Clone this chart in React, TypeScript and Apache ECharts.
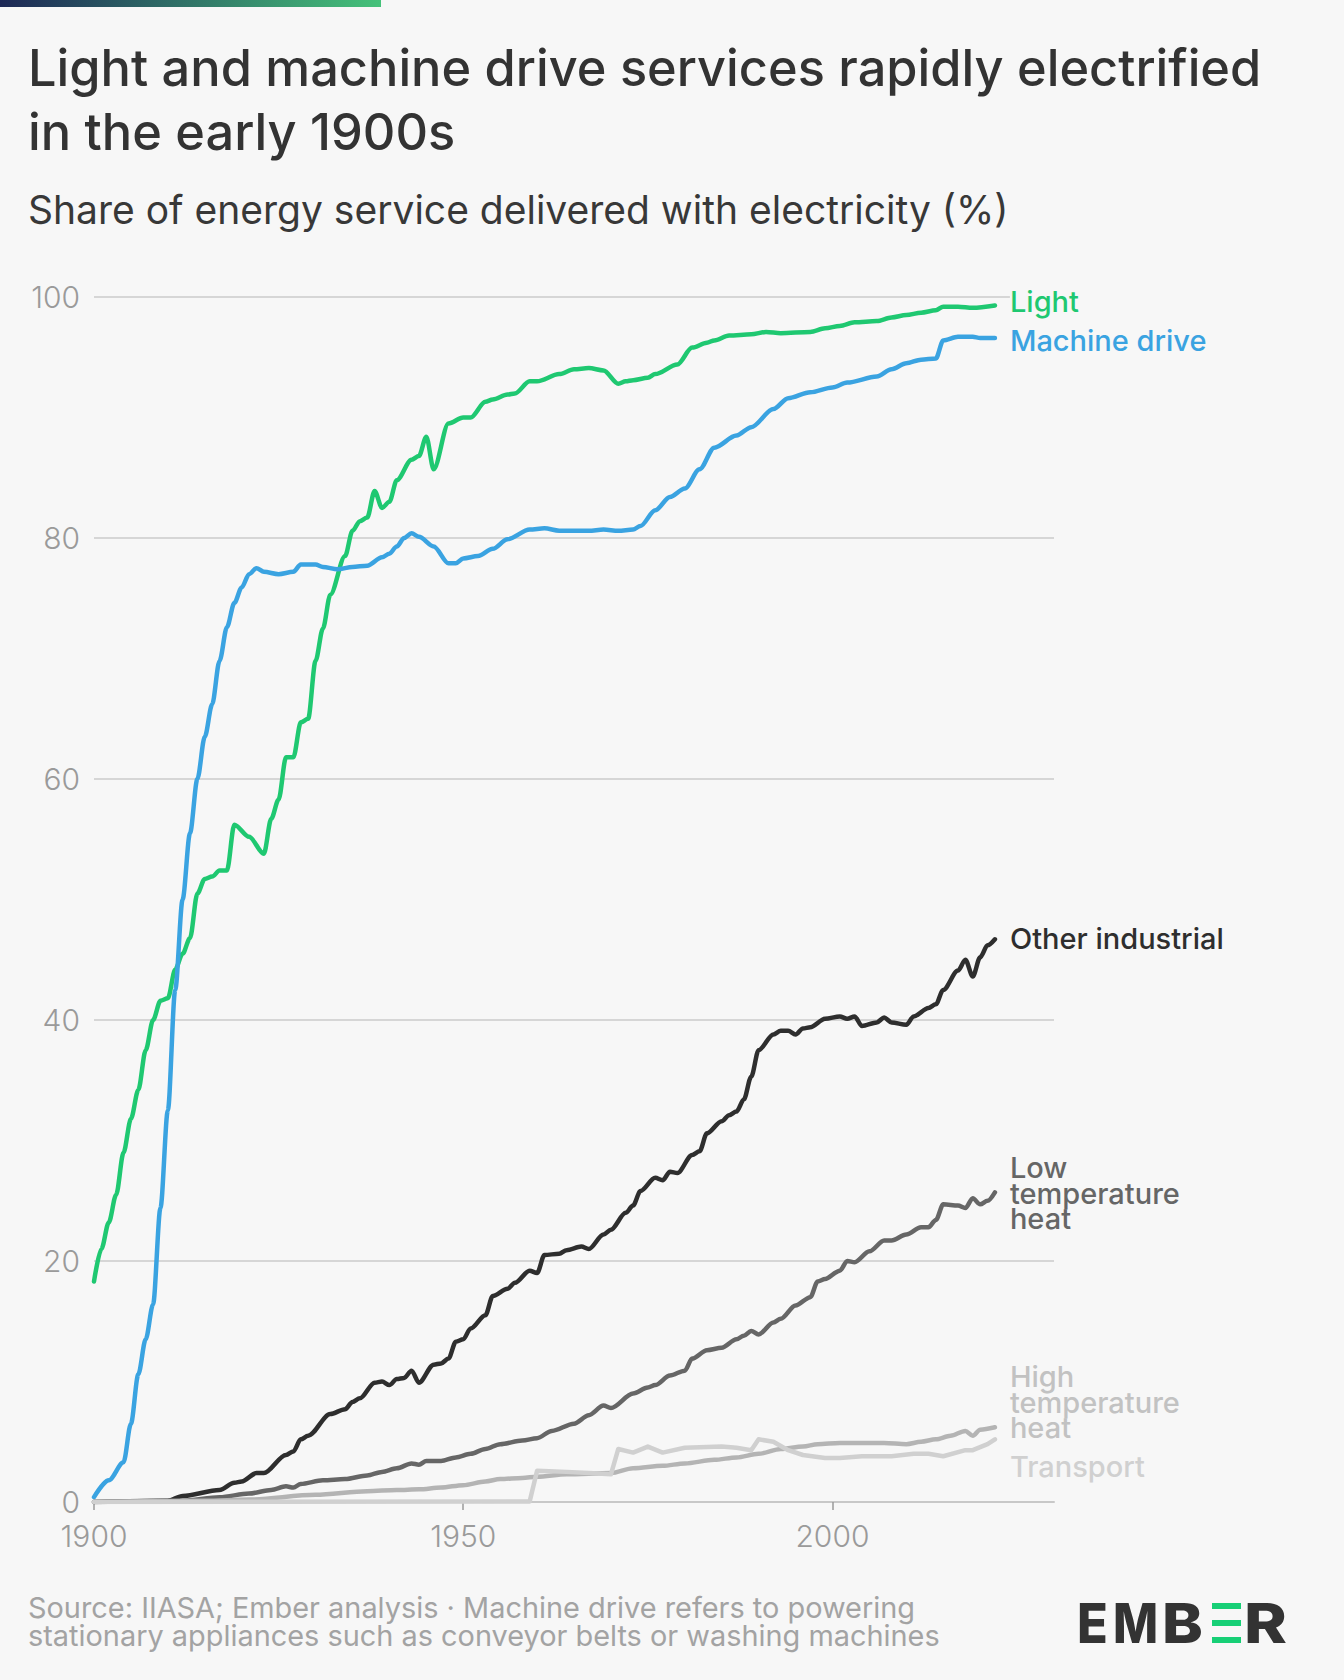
import React, { useEffect, useRef } from "react";
import * as echarts from "echarts";

const FONT = "Inter, 'Noto Sans', sans-serif";
const BG = "#f7f7f7";

const xTickYears = [1900, 1950, 2000];

const lightYears = [1900, 1901, 1902, 1903, 1904, 1905, 1906, 1907, 1908, 1909, 1910, 1911, 1912, 1913, 1914, 1915, 1916, 1917, 1918, 1919, 1921, 1923, 1924, 1925, 1926, 1927, 1928, 1929, 1930, 1931, 1932, 1934, 1935, 1936, 1937, 1938, 1939, 1940, 1941, 1943, 1944, 1945, 1946, 1948, 1950, 1951, 1953, 1954, 1956, 1957, 1959, 1960, 1963, 1965, 1967, 1969, 1971, 1972, 1973, 1975, 1976, 1979, 1981, 1983, 1984, 1986, 1989, 1991, 1993, 1997, 1999, 2001, 2003, 2006, 2008, 2010, 2012, 2014, 2015, 2017, 2019, 2022];
const lightValues = [18.3, 21, 23.2, 25.5, 29, 31.8, 34.2, 37.5, 40, 41.6, 41.8, 44.2, 45.5, 46.8, 50.5, 51.7, 51.9, 52.4, 52.4, 56.2, 55.2, 53.8, 56.7, 58.3, 61.8, 61.8, 64.7, 65, 69.8, 72.5, 75.3, 78.5, 80.6, 81.4, 81.7, 83.9, 82.5, 83, 84.8, 86.5, 86.8, 88.4, 85.7, 89.5, 90, 90, 91.3, 91.5, 91.9, 92, 93, 93, 93.6, 94, 94.1, 93.9, 92.8, 93, 93.1, 93.3, 93.6, 94.4, 95.8, 96.2, 96.4, 96.8, 96.9, 97.1, 97, 97.1, 97.4, 97.6, 97.9, 98, 98.3, 98.5, 98.7, 98.9, 99.2, 99.2, 99.1, 99.3];

const machineYears = [1900, 1902, 1904, 1905, 1906, 1907, 1908, 1909, 1910, 1911, 1912, 1913, 1914, 1915, 1916, 1917, 1918, 1919, 1920, 1921, 1922, 1923, 1925, 1927, 1928, 1930, 1931, 1933, 1935, 1937, 1939, 1940, 1941, 1942, 1943, 1944, 1946, 1948, 1949, 1950, 1952, 1954, 1956, 1959, 1961, 1963, 1967, 1969, 1971, 1973, 1974, 1976, 1978, 1980, 1982, 1984, 1987, 1989, 1992, 1994, 1997, 2000, 2002, 2006, 2008, 2010, 2012, 2014, 2015, 2017, 2019, 2020, 2022];
const machineValues = [0.4, 1.8, 3.3, 6.5, 10.6, 13.5, 16.4, 24.4, 32.5, 42.5, 50, 55.5, 60, 63.5, 66.2, 69.8, 72.6, 74.6, 75.9, 77, 77.5, 77.2, 77, 77.2, 77.8, 77.8, 77.6, 77.4, 77.6, 77.7, 78.4, 78.7, 79.3, 80, 80.4, 80.1, 79.3, 77.9, 77.9, 78.3, 78.5, 79.1, 79.9, 80.7, 80.8, 80.6, 80.6, 80.7, 80.6, 80.7, 81, 82.3, 83.4, 84.1, 85.7, 87.5, 88.5, 89.2, 90.7, 91.6, 92.1, 92.5, 92.9, 93.4, 94, 94.5, 94.8, 94.9, 96.4, 96.7, 96.7, 96.6, 96.6];

const otherYears = [1900, 1910, 1912, 1917, 1919, 1920, 1922, 1923, 1926, 1927, 1928, 1929, 1932, 1934, 1935, 1936, 1938, 1939, 1940, 1941, 1942, 1943, 1944, 1946, 1947, 1948, 1949, 1950, 1951, 1953, 1954, 1956, 1957, 1959, 1960, 1961, 1963, 1964, 1966, 1967, 1969, 1970, 1972, 1973, 1974, 1976, 1977, 1978, 1979, 1981, 1982, 1983, 1985, 1986, 1987, 1988, 1989, 1990, 1992, 1993, 1994, 1995, 1996, 1997, 1999, 2001, 2002, 2003, 2004, 2006, 2007, 2008, 2010, 2011, 2013, 2014, 2015, 2017, 2018, 2019, 2020, 2021, 2022];
const otherValues = [0, 0.1, 0.5, 1.0, 1.6, 1.7, 2.4, 2.4, 3.9, 4.2, 5.2, 5.5, 7.3, 7.7, 8.3, 8.6, 9.9, 10, 9.7, 10.2, 10.3, 10.9, 9.9, 11.4, 11.5, 11.9, 13.3, 13.5, 14.4, 15.5, 17.1, 17.7, 18.2, 19.2, 19, 20.5, 20.6, 20.9, 21.2, 21, 22.2, 22.6, 24, 24.6, 25.8, 26.9, 26.7, 27.4, 27.3, 28.8, 29.1, 30.6, 31.6, 32.1, 32.4, 33.4, 35.3, 37.5, 38.8, 39.1, 39.1, 38.8, 39.3, 39.4, 40.1, 40.3, 40.1, 40.3, 39.5, 39.8, 40.2, 39.8, 39.6, 40.3, 41, 41.3, 42.5, 44.1, 45, 43.6, 45.2, 46.2, 46.7];

const lowHeatYears = [1900, 1912, 1917, 1921, 1924, 1926, 1927, 1928, 1931, 1934, 1937, 1939, 1941, 1943, 1944, 1945, 1947, 1949, 1951, 1953, 1955, 1958, 1960, 1962, 1965, 1967, 1969, 1970, 1973, 1975, 1976, 1978, 1980, 1981, 1983, 1985, 1987, 1988, 1989, 1990, 1992, 1993, 1995, 1997, 1998, 1999, 2001, 2002, 2003, 2005, 2007, 2008, 2010, 2012, 2013, 2014, 2015, 2017, 2018, 2019, 2020, 2021, 2022];
const lowHeatValues = [0, 0.1, 0.4, 0.7, 1.0, 1.3, 1.2, 1.5, 1.8, 1.9, 2.2, 2.5, 2.8, 3.2, 3.1, 3.4, 3.4, 3.7, 4.0, 4.4, 4.8, 5.1, 5.3, 5.9, 6.5, 7.2, 8.0, 7.8, 9.0, 9.5, 9.7, 10.5, 10.9, 11.9, 12.6, 12.8, 13.5, 13.8, 14.2, 13.9, 14.9, 15.2, 16.3, 17, 18.3, 18.5, 19.2, 20, 19.9, 20.8, 21.7, 21.7, 22.2, 22.8, 22.8, 23.4, 24.7, 24.6, 24.4, 25.2, 24.7, 25, 25.7];

const highHeatYears = [1900, 1915, 1921, 1930, 1937, 1941, 1944, 1947, 1950, 1953, 1955, 1958, 1960, 1964, 1970, 1973, 1977, 1980, 1984, 1987, 1990, 1993, 1996, 1998, 2001, 2004, 2007, 2010, 2012, 2014, 2016, 2018, 2019, 2020, 2022];
const highHeatValues = [0, 0.1, 0.2, 0.6, 0.9, 1.0, 1.05, 1.2, 1.4, 1.7, 1.9, 2.0, 2.1, 2.3, 2.4, 2.8, 3.0, 3.2, 3.5, 3.7, 4.0, 4.4, 4.6, 4.8, 4.9, 4.9, 4.9, 4.8, 5.0, 5.2, 5.5, 5.9, 5.5, 6.0, 6.2];

const transportYears = [1900, 1959, 1960, 1964, 1967, 1970, 1971, 1973, 1975, 1977, 1980, 1985, 1987, 1989, 1990, 1992, 1994, 1996, 1999, 2001, 2004, 2008, 2011, 2013, 2015, 2018, 2019, 2021, 2022];
const transportValues = [0, 0.05, 2.6, 2.5, 2.4, 2.3, 4.4, 4.1, 4.6, 4.1, 4.5, 4.6, 4.5, 4.3, 5.2, 5.0, 4.3, 3.9, 3.65, 3.65, 3.8, 3.8, 4.0, 4.0, 3.8, 4.3, 4.3, 4.8, 5.2];

const pairs = (xs: number[], ys: number[]) => xs.map((x, i) => [x, ys[i]]);

type SeriesDef = {
  name: string;
  label: string;
  years: number[];
  values: number[];
  color: string;
  labelColor: string;
  dy: number;
  smooth: number | boolean;
  bg?: boolean;
};

const seriesDefs: SeriesDef[] = [
  { name: "Light", label: "Light", years: lightYears, values: lightValues, color: "#1fc871", labelColor: "#1fc871", dy: -4, smooth: 0.3, bg: true },
  { name: "Machine drive", label: "Machine drive", years: machineYears, values: machineValues, color: "#3aa3e1", labelColor: "#3aa3e1", dy: 3, smooth: 0.3 },
  { name: "Other industrial", label: "Other industrial", years: otherYears, values: otherValues, color: "#2e2e2e", labelColor: "#2e2e2e", dy: -1, smooth: 0.3 },
  { name: "Low temperature heat", label: "Low\ntemperature\nheat", years: lowHeatYears, values: lowHeatValues, color: "#666666", labelColor: "#666666", dy: 1, smooth: 0.3 },
  { name: "High temperature heat", label: "High\ntemperature\nheat", years: highHeatYears, values: highHeatValues, color: "#b4b4b4", labelColor: "#c2c2c2", dy: -25, smooth: 0.3 },
  { name: "Transport", label: "Transport", years: transportYears, values: transportValues, color: "#d0d0d0", labelColor: "#d0d0d0", dy: 27, smooth: false },
];

export default function App() {
  const ref = useRef<HTMLDivElement>(null);

  useEffect(() => {
    document.body.style.margin = "0";
    document.body.style.background = BG;
    if (!ref.current) return;
    const chart = echarts.init(ref.current, undefined, { renderer: "svg" });

    const series = seriesDefs.map((d) => ({
      name: d.name,
      type: "line",
      data: pairs(d.years, d.values),
      showSymbol: false,
      smooth: d.smooth,
      smoothMonotone: "x",
      lineStyle: { color: d.color, width: 4.5, cap: "round", join: "round" },
      itemStyle: { color: d.color },
      emphasis: { disabled: true },
      endLabel: {
        show: true,
        formatter: d.label,
        color: d.labelColor,
        fontFamily: FONT,
        fontSize: 29,
        fontWeight: 500,
        lineHeight: 25.5,
        distance: 15,
        offset: [0, d.dy],
        backgroundColor: d.bg ? BG : "transparent",
        padding: d.bg ? [0, 4, 0, 0] : 0,
      },
    }));

    const logoLetter = (ch: string, x: number, sx: number) => ({
      type: "text",
      x,
      y: 1623,
      scaleX: sx,
      style: {
        text: ch,
        fill: "#333333",
        fontFamily: FONT,
        fontSize: 55,
        fontWeight: 800,
        verticalAlign: "middle",
        align: "left",
      },
    });

    chart.setOption({
      animation: false,
      backgroundColor: BG,
      grid: { left: 94, right: 290, top: 297, bottom: 178, containLabel: false },
      xAxis: {
        type: "value",
        min: 1900,
        max: 2030,
        interval: 50,
        splitLine: { show: false },
        axisLine: { show: true, lineStyle: { color: "#c8c8c8", width: 2 } },
        axisTick: { show: true, length: 8, customValues: xTickYears, lineStyle: { color: "#9a9a9a", width: 1.5 } },
        axisLabel: {
          customValues: xTickYears,
          color: "#9a9a9a",
          fontFamily: FONT,
          fontSize: 30,
          fontWeight: 300,
          margin: 19,
          formatter: (v: number) => String(v),
        },
      },
      yAxis: {
        type: "value",
        min: 0,
        max: 100,
        interval: 20,
        axisLine: { show: false },
        axisTick: { show: false },
        splitLine: { show: true, lineStyle: { color: "#d6d6d6", width: 2 } },
        axisLabel: { color: "#9a9a9a", fontFamily: FONT, fontSize: 30, fontWeight: 300, margin: 14 },
      },
      series,
      graphic: [
        {
          type: "rect",
          shape: { x: 0, y: 0, width: 381, height: 7 },
          style: {
            fill: new echarts.graphic.LinearGradient(0, 0, 1, 0, [
              { offset: 0, color: "#1d2856" },
              { offset: 1, color: "#45c27a" },
            ]),
          },
        },
        {
          type: "text",
          x: 28,
          y: 67,
          style: { text: "Light and machine drive services rapidly electrified", fill: "#333333", fontFamily: FONT, fontSize: 50.5, fontWeight: 500, verticalAlign: "middle" },
        },
        {
          type: "text",
          x: 28,
          y: 131,
          style: { text: "in the early 1900s", fill: "#333333", fontFamily: FONT, fontSize: 50.5, fontWeight: 500, verticalAlign: "middle" },
        },
        {
          type: "text",
          x: 28,
          y: 209,
          style: { text: "Share of energy service delivered with electricity (%)", fill: "#383838", fontFamily: FONT, fontSize: 39, fontWeight: 400, verticalAlign: "middle" },
        },
        {
          type: "text",
          x: 28,
          y: 1607,
          style: { text: "Source: IIASA; Ember analysis · Machine drive refers to powering", fill: "#a3a3a3", fontFamily: FONT, fontSize: 28.9, fontWeight: 400, verticalAlign: "middle" },
        },
        {
          type: "text",
          x: 28,
          y: 1635,
          style: { text: "stationary appliances such as conveyor belts or washing machines", fill: "#a3a3a3", fontFamily: FONT, fontSize: 28.9, fontWeight: 400, verticalAlign: "middle" },
        },
        logoLetter("E", 1077, 0.92),
        logoLetter("M", 1113, 0.87),
        logoLetter("B", 1162, 1.12),
        { type: "rect", shape: { x: 1212, y: 1603, width: 29, height: 6 }, style: { fill: "#17cf76" } },
        { type: "rect", shape: { x: 1212, y: 1620, width: 29, height: 6 }, style: { fill: "#17cf76" } },
        { type: "rect", shape: { x: 1212, y: 1637, width: 29, height: 6 }, style: { fill: "#17cf76" } },
        logoLetter("R", 1244, 1.18),
      ],
    });

    return () => chart.dispose();
  }, []);

  return <div ref={ref} style={{ width: 1344, height: 1680, background: BG }} />;
}
